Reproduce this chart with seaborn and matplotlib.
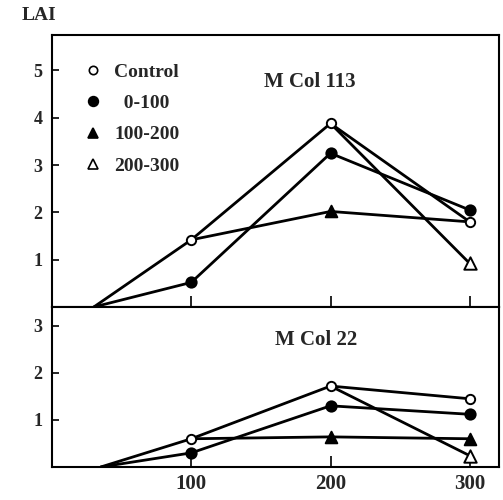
import matplotlib
matplotlib.use('Agg')
import matplotlib.pyplot as plt
import seaborn as sns
from matplotlib.lines import Line2D

sns.set_theme(style='ticks')
plt.rcParams['font.family'] = ['Liberation Serif', 'DejaVu Serif']

# ---------------- data ----------------
series_names = ['Control', '0-100', '100-200', '200-300']

# M Col 113 (top panel)
top_control_x = [30, 100, 200, 300]
top_control_y = [0.0, 1.42, 3.88, 1.80]
top_control_mark = [False, True, True, True]

top_0_100_x = [30, 100, 200, 300]
top_0_100_y = [0.0, 0.52, 3.25, 2.05]
top_0_100_mark = [False, True, True, True]

top_100_200_x = [100, 200, 300]
top_100_200_y = [1.42, 2.02, 1.80]
top_100_200_mark = [False, True, False]

top_200_300_x = [200, 300]
top_200_300_y = [3.88, 0.92]
top_200_300_mark = [False, True]

# M Col 22 (bottom panel)
bot_control_x = [35, 100, 200, 300]
bot_control_y = [0.0, 0.60, 1.72, 1.45]
bot_control_mark = [False, True, True, True]

bot_0_100_x = [35, 100, 200, 300]
bot_0_100_y = [0.0, 0.30, 1.30, 1.12]
bot_0_100_mark = [False, True, True, True]

bot_100_200_x = [100, 200, 300]
bot_100_200_y = [0.60, 0.64, 0.60]
bot_100_200_mark = [False, True, True]

bot_200_300_x = [200, 300]
bot_200_300_y = [1.72, 0.24]
bot_200_300_mark = [False, True]

x_ticks = [100, 200, 300]
top_yticks = [1, 2, 3, 4, 5]
bot_yticks = [1, 2, 3]

styles = {
    'Control': dict(marker='o', fc='white', s=45),
    '0-100': dict(marker='o', fc='black', s=55),
    '100-200': dict(marker='^', fc='black', s=70),
    '200-300': dict(marker='^', fc='white', s=80),
}

# ---------------- figure ----------------
fig = plt.figure(figsize=(5.03, 5.0), dpi=100)
W, H = 503, 500
left, right = 52 / W, 499 / W
ax_top = fig.add_axes([left, 1 - 307 / H, right - left, (307 - 35) / H])
ax_bot = fig.add_axes([left, 1 - 467 / H, right - left, (467 - 307) / H])


def draw(ax, data):
    for name, xs, ys, marks in data:
        sns.lineplot(x=xs, y=ys, ax=ax, color='black', linewidth=2.0,
                     sort=False, estimator=None, legend=False)
    for name, xs, ys, marks in data:
        st = styles[name]
        mx = [x for x, m in zip(xs, marks) if m]
        my = [y for y, m in zip(ys, marks) if m]
        sns.scatterplot(x=mx, y=my, ax=ax, marker=st['marker'], s=st['s'],
                        facecolor=st['fc'], edgecolor='black', linewidth=1.4,
                        zorder=5, legend=False)


draw(ax_top, [
    ('Control', top_control_x, top_control_y, top_control_mark),
    ('0-100', top_0_100_x, top_0_100_y, top_0_100_mark),
    ('100-200', top_100_200_x, top_100_200_y, top_100_200_mark),
    ('200-300', top_200_300_x, top_200_300_y, top_200_300_mark),
])
draw(ax_bot, [
    ('Control', bot_control_x, bot_control_y, bot_control_mark),
    ('0-100', bot_0_100_x, bot_0_100_y, bot_0_100_mark),
    ('100-200', bot_100_200_x, bot_100_200_y, bot_100_200_mark),
    ('200-300', bot_200_300_x, bot_200_300_y, bot_200_300_mark),
])

for ax, ymax, yt in [(ax_top, 5.75, top_yticks), (ax_bot, 3.4, bot_yticks)]:
    ax.set_xlim(0, 321)
    ax.set_ylim(0, ymax)
    ax.set_xticks(x_ticks)
    ax.set_yticks(yt)
    ax.set_yticklabels([str(v) for v in yt], fontsize=13, fontweight='bold')
    ax.tick_params(axis='both', direction='in', color='black', width=1.2)
    ax.tick_params(axis='x', length=8)
    ax.tick_params(axis='y', length=5, pad=7)
    for sp in ax.spines.values():
        sp.set_visible(True)
        sp.set_color('black')
        sp.set_linewidth(1.5)
    ax.set_xlabel('')
    ax.set_ylabel('')

ax_top.set_xticklabels([])
ax_bot.set_xticklabels([str(v) for v in x_ticks], fontsize=15, fontweight='bold')
ax_bot.tick_params(axis='x', pad=5)

ax_top.text(0.577, 0.827, 'M Col 113', transform=ax_top.transAxes, ha='center',
            va='center', fontsize=15, fontweight='bold')
ax_bot.text(0.59, 0.794, 'M Col 22', transform=ax_bot.transAxes, ha='center',
            va='center', fontsize=15, fontweight='bold')
fig.text(22 / W, 1 - 16 / H, 'LAI', ha='left', va='center', fontsize=14,
         fontweight='bold')

handles = []
for name in series_names:
    st = styles[name]
    handles.append(Line2D([], [], linestyle='none', marker=st['marker'],
                          markerfacecolor=st['fc'], markeredgecolor='black',
                          markeredgewidth=1.2,
                          markersize=6 if name == 'Control' else 7))
labels = ['Control', '  0-100', '100-200', '200-300']
leg = ax_top.legend(handles, labels, loc='upper left',
                    bbox_to_anchor=(0.035, 0.96), frameon=False,
                    handlelength=0.8, handletextpad=0.7, labelspacing=0.7,
                    prop={'family': 'Liberation Serif', 'weight': 'bold',
                          'size': 14})

fig.savefig('out.png', dpi=100)
